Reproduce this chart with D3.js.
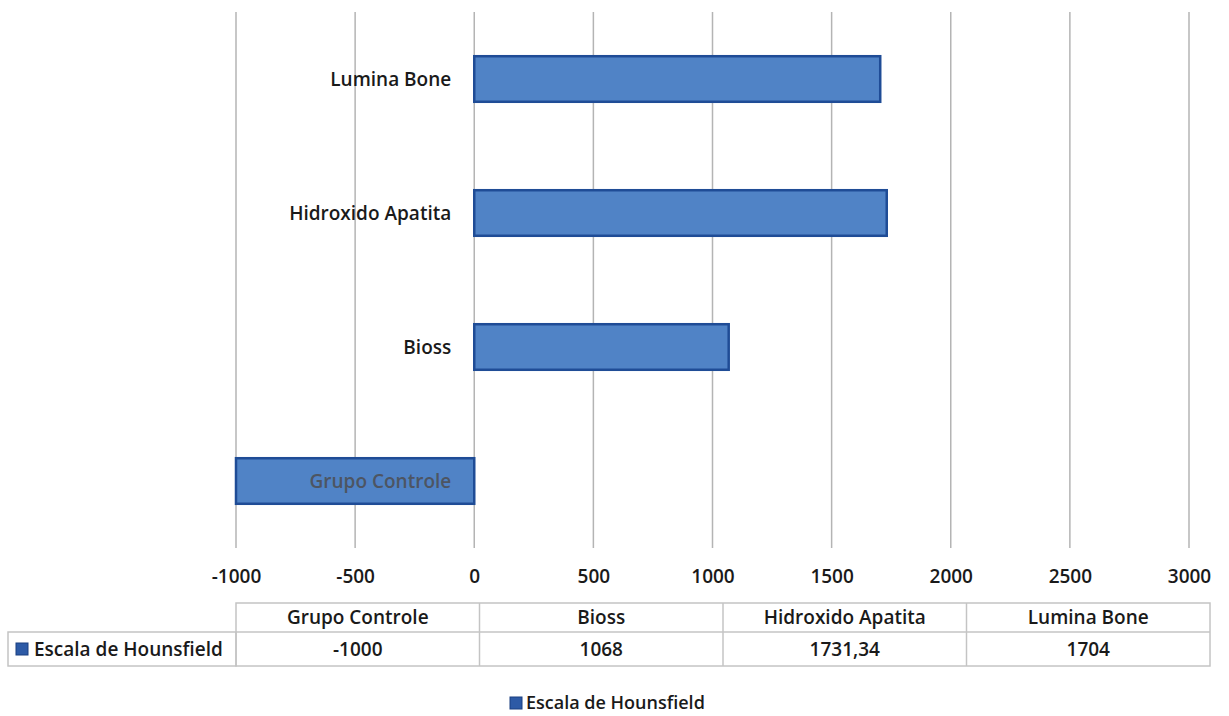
<!DOCTYPE html>
<html>
<head>
    <meta charset="utf-8">
    <title>Escala de Hounsfield</title>
    <script src="https://d3js.org/d3.v7.min.js"></script>
    <style>
        body { margin: 0; background: white; }
        text { font-family: "Open Sans", "DejaVu Sans", sans-serif; fill: #1a1a1a; font-size: 19px; font-weight: 600; }
    </style>
</head>
<body>
    <div id="chart"></div>
    <script>
        // data
        let categories = ["Grupo Controle", "Bioss", "Hidroxido Apatita", "Lumina Bone"];
        let values = [-1000, 1068, 1731.34, 1704];
        let valueLabels = ["-1000", "1068", "1731,34", "1704"];
        let ticks = [-1000, -500, 0, 500, 1000, 1500, 2000, 2500, 3000];
        let seriesName = "Escala de Hounsfield";

        let data = categories.map((c, i) => ({cat: c, value: values[i], label: valueLabels[i]}));

        let W = 1229, H = 716;
        let svg = d3.select("#chart").append("svg")
            .attr("width", W)
            .attr("height", H);

        let xScale = d3.scaleLinear()
            .domain([-1000, 3000])
            .range([236, 1189]);

        let yScale = d3.scaleBand()
            .domain(categories.slice().reverse())
            .range([12, 548])
            .paddingInner(0.66)
            .paddingOuter(0.33);

        // gridlines
        svg.append("g").selectAll("line")
            .data(ticks)
            .enter()
            .append("line")
            .attr("x1", d => xScale(d))
            .attr("x2", d => xScale(d))
            .attr("y1", 12)
            .attr("y2", 548)
            .attr("stroke", "#b4b4b4")
            .attr("stroke-width", 1.5);

        // bars
        svg.append("g").selectAll("rect")
            .data(data)
            .enter()
            .append("rect")
            .attr("x", d => xScale(Math.min(0, d.value)))
            .attr("y", d => yScale(d.cat))
            .attr("width", d => Math.abs(xScale(d.value) - xScale(0)))
            .attr("height", yScale.bandwidth())
            .attr("fill", "#5083c6")
            .attr("stroke", "#1f4c96")
            .attr("stroke-width", 2.5);

        // category labels
        svg.append("g").selectAll("text")
            .data(data)
            .enter()
            .append("text")
            .attr("x", xScale(0) - 23)
            .attr("y", d => yScale(d.cat) + yScale.bandwidth() / 2)
            .attr("dy", "0.35em")
            .attr("text-anchor", "end")
            .style("fill", d => d.value < 0 ? "#4d5562" : "#1a1a1a")
            .text(d => d.cat);

        // x axis tick labels
        let xAxis = d3.axisBottom(xScale).tickValues(ticks).tickSize(0).tickPadding(0).tickFormat(d => String(d));
        let ax = svg.append("g")
            .attr("transform", "translate(0,569)")
            .call(xAxis);
        ax.select(".domain").remove();
        ax.selectAll("text")
            .style("font-size", "19px")
            .style("font-weight", "600")
            .style("fill", "#1a1a1a")
            .style("font-family", "'Open Sans', sans-serif");

        // data table
        let colScale = d3.scaleBand()
            .domain(categories)
            .range([236, 1210]);
        let tTop = 603, tMid = 632, tBot = 666, tLeft = 8;
        let tbl = svg.append("g");
        let lineColor = "#c4c4c4";

        tbl.append("rect")
            .attr("x", 236).attr("y", tTop)
            .attr("width", 1210 - 236).attr("height", tBot - tTop)
            .attr("fill", "none").attr("stroke", lineColor).attr("stroke-width", 1.5);
        tbl.append("rect")
            .attr("x", tLeft).attr("y", tMid)
            .attr("width", 236 - tLeft).attr("height", tBot - tMid)
            .attr("fill", "none").attr("stroke", lineColor).attr("stroke-width", 1.5);
        tbl.append("line")
            .attr("x1", 236).attr("x2", 1210).attr("y1", tMid).attr("y2", tMid)
            .attr("stroke", lineColor).attr("stroke-width", 1.5);
        tbl.selectAll("line.sep")
            .data(categories.slice(1))
            .enter()
            .append("line")
            .attr("class", "sep")
            .attr("x1", d => colScale(d)).attr("x2", d => colScale(d))
            .attr("y1", tTop).attr("y2", tBot)
            .attr("stroke", lineColor).attr("stroke-width", 1.5);

        tbl.selectAll("text.head")
            .data(data)
            .enter()
            .append("text")
            .attr("class", "head")
            .attr("x", d => colScale(d.cat) + colScale.bandwidth() / 2)
            .attr("y", (tTop + tMid) / 2)
            .attr("dy", "0.35em")
            .attr("text-anchor", "middle")
            .text(d => d.cat);

        tbl.selectAll("text.val")
            .data(data)
            .enter()
            .append("text")
            .attr("class", "val")
            .attr("x", d => colScale(d.cat) + colScale.bandwidth() / 2)
            .attr("y", (tMid + tBot) / 2)
            .attr("dy", "0.35em")
            .attr("text-anchor", "middle")
            .text(d => d.label);

        tbl.append("rect")
            .attr("x", 16).attr("y", 643)
            .attr("width", 12).attr("height", 12)
            .attr("fill", "#2d5aa6").attr("stroke", "#1b3f80");
        tbl.append("text")
            .attr("x", 34).attr("y", (tMid + tBot) / 2)
            .attr("dy", "0.35em")
            .text(seriesName);

        // legend
        let lg = svg.append("g").attr("transform", "translate(510,697)");
        lg.append("rect")
            .attr("width", 12).attr("height", 12)
            .attr("fill", "#2d5aa6").attr("stroke", "#1b3f80");
        lg.append("text")
            .attr("x", 16).attr("y", 6)
            .attr("dy", "0.35em")
            .style("font-size", "18px")
            .text(seriesName);
    </script>
</body>
</html>
